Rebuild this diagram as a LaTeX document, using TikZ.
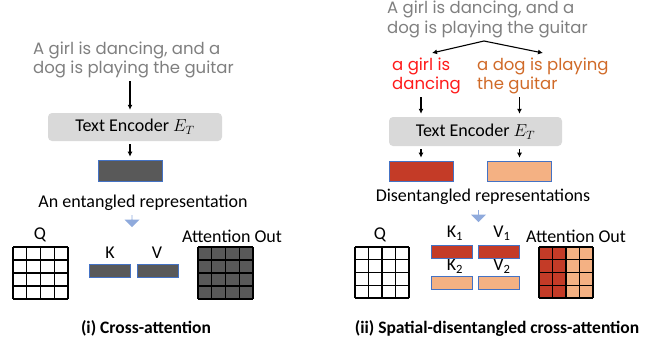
\documentclass[tikz,border=0pt]{standalone}
\usepackage{amsmath}
\usepackage{fontspec}
\setmainfont{Carlito}
\newfontfamily\handfont{Poppins}
\usetikzlibrary{calc,arrows.meta,shapes.arrows}

\definecolor{handgray}{HTML}{7F7F7F}
\definecolor{encgray}{HTML}{D9D9D9}
\definecolor{darkrep}{HTML}{595959}
\definecolor{redrep}{HTML}{C43B27}
\definecolor{orangerep}{HTML}{F4B183}
\definecolor{redtxt}{HTML}{FF1A1A}
\definecolor{orangetxt}{HTML}{D06A28}
\definecolor{arrowblue}{HTML}{8FAADC}
\definecolor{repborder}{HTML}{4472C4}

\tikzset{
  hand/.style={font=\handfont\fontsize{16.5}{19.5}\selectfont, align=left, inner sep=0pt},
  lbl/.style={font=\fontsize{18}{20}\selectfont, inner sep=0pt},
  caption/.style={font=\bfseries\fontsize{17.5}{20}\selectfont, inner sep=0pt},
  encoder/.style={fill=encgray, rounded corners=4pt, minimum width=174pt, minimum height=28pt,
    font=\fontsize{18}{20}\selectfont},
  rep/.style={draw=repborder, line width=0.6pt, minimum width=64pt, minimum height=21pt, inner sep=0pt},
  kv/.style={draw=repborder, line width=0.6pt, minimum width=41pt, minimum height=13pt, inner sep=0pt},
  arr/.style={-{Latex[length=5pt,width=5pt]}, line width=1.1pt, shorten <=3pt, shorten >=3pt},
  bigarrow/.style={single arrow, fill=arrowblue, shape border rotate=270, minimum height=12pt,
    minimum width=15pt, single arrow head extend=3.5pt, inner sep=0pt},
}

\begin{document}
\begin{tikzpicture}[x=1pt,y=-1pt]
    \useasboundingbox (0,0) rectangle (658,343);

    % (i) cross-attention
    \node[hand, text=handgray, anchor=west] (prompt) at (33,60) {A girl is dancing, and a\\dog is playing the guitar};
    \node[encoder] (enc) at (135,127) {Text Encoder $E_T$};
    \node[rep, fill=darkrep] (rep) at (130,170.5) {};
    \node[lbl] (reptxt) at (143,203) {An entangled representation};
    \draw[arr] (prompt.south -| rep) -- (enc.north -| rep);
    \draw[arr] (enc.south -| rep) -- (rep.north);
    \node[bigarrow] (down) at (132,221) {};

    \node[lbl] (q) at (40,235) {Q};
    \foreach \i in {0,...,4} {
        \draw[line width=1.2pt] (13+\i*13.75,247) -- (13+\i*13.75,299);
        \draw[line width=1.2pt] (13,247+\i*13) -- (68,247+\i*13);
    }
    \node[lbl] (k) at (110,253) {K};
    \node[lbl] (v) at (157,253) {V};
    \node[kv, fill=darkrep] (kbar) at (109.5,271) {};
    \node[kv, fill=darkrep] (vbar) at (157.5,271) {};

    \node[lbl] (out) at (232,236) {Attention Out};
    \fill[darkrep] (198,247) rectangle (253,299);
    \foreach \i in {0,...,4} {
        \draw[line width=1.2pt] (198+\i*13.75,247) -- (198+\i*13.75,299);
        \draw[line width=1.2pt] (198,247+\i*13) -- (253,247+\i*13);
    }
    \node[caption] (cap1) at (146,328) {(i) Cross-attention};

    % (ii) spatial-disentangled cross-attention
    \node[hand, text=handgray, anchor=west] (prompt2) at (387,19.5) {A girl is dancing, and a\\dog is playing the guitar};
    \coordinate (fork) at (484,41);
    \coordinate (forkL) at (432,53);
    \coordinate (forkR) at (543,53);
    \draw[-{Latex[length=5pt,width=5pt]}, line width=1.1pt] (fork) -- (forkL);
    \draw[-{Latex[length=5pt,width=5pt]}, line width=1.1pt] (fork) -- (forkR);
    \node[hand, text=redtxt, anchor=west] (girl) at (392,76) {a girl is\\dancing};
    \node[hand, text=orangetxt, anchor=west] (dog) at (477,76) {a dog is playing\\the guitar};
    \node[encoder, minimum width=173pt, minimum height=29pt] (enc2) at (475.5,131.5) {Text Encoder $E_T$};
    \node[rep, fill=redrep, minimum height=20pt] (rep1) at (421,171) {};
    \node[rep, fill=orangerep, minimum height=20pt] (rep2) at (519.5,171) {};
    \draw[arr] (girl.south -| rep1) -- (enc2.north -| rep1);
    \draw[arr] (girl.south -| rep2) -- (enc2.north -| rep2);
    \draw[arr] (enc2.south -| rep1) -- (rep1.north);
    \draw[arr] (enc2.south -| rep2) -- (rep2.north);
    \node[lbl] (reptxt2) at (483,197) {Disentangled representations};
    \node[bigarrow] (down2) at (478.5,216) {};

    \node[lbl] (q2) at (380,235) {Q};
    \foreach \i in {0,...,4} {
        \draw[line width=1.2pt] (355+\i*13.5,247) -- (355+\i*13.5,298);
        \draw[line width=1.2pt] (355,247+\i*12.75) -- (409,247+\i*12.75);
    }
    \node[lbl] (k1) at (455,233) {K\textsubscript{1}};
    \node[lbl] (v1) at (502,233) {V\textsubscript{1}};
    \node[lbl] (k2) at (455,266) {K\textsubscript{2}};
    \node[lbl] (v2) at (502,266) {V\textsubscript{2}};
    \node[kv, fill=redrep] (k1bar) at (451.5,251.5) {};
    \node[kv, fill=redrep] (v1bar) at (498.5,251.5) {};
    \node[kv, fill=orangerep] (k2bar) at (451.5,283) {};
    \node[kv, fill=orangerep] (v2bar) at (498.5,283) {};

    \node[lbl] (out2) at (576,236) {Attention Out};
    \fill[redrep] (539,247) rectangle (566,298);
    \fill[orangerep] (566,247) rectangle (593,298);
    \foreach \i in {0,...,4} {
        \draw[line width=1.2pt] (539+\i*13.5,247) -- (539+\i*13.5,298);
        \draw[line width=1.2pt] (539,247+\i*12.75) -- (593,247+\i*12.75);
    }
    \node[caption] (cap2) at (497,328) {(ii) Spatial-disentangled cross-attention};
\end{tikzpicture}
\end{document}
